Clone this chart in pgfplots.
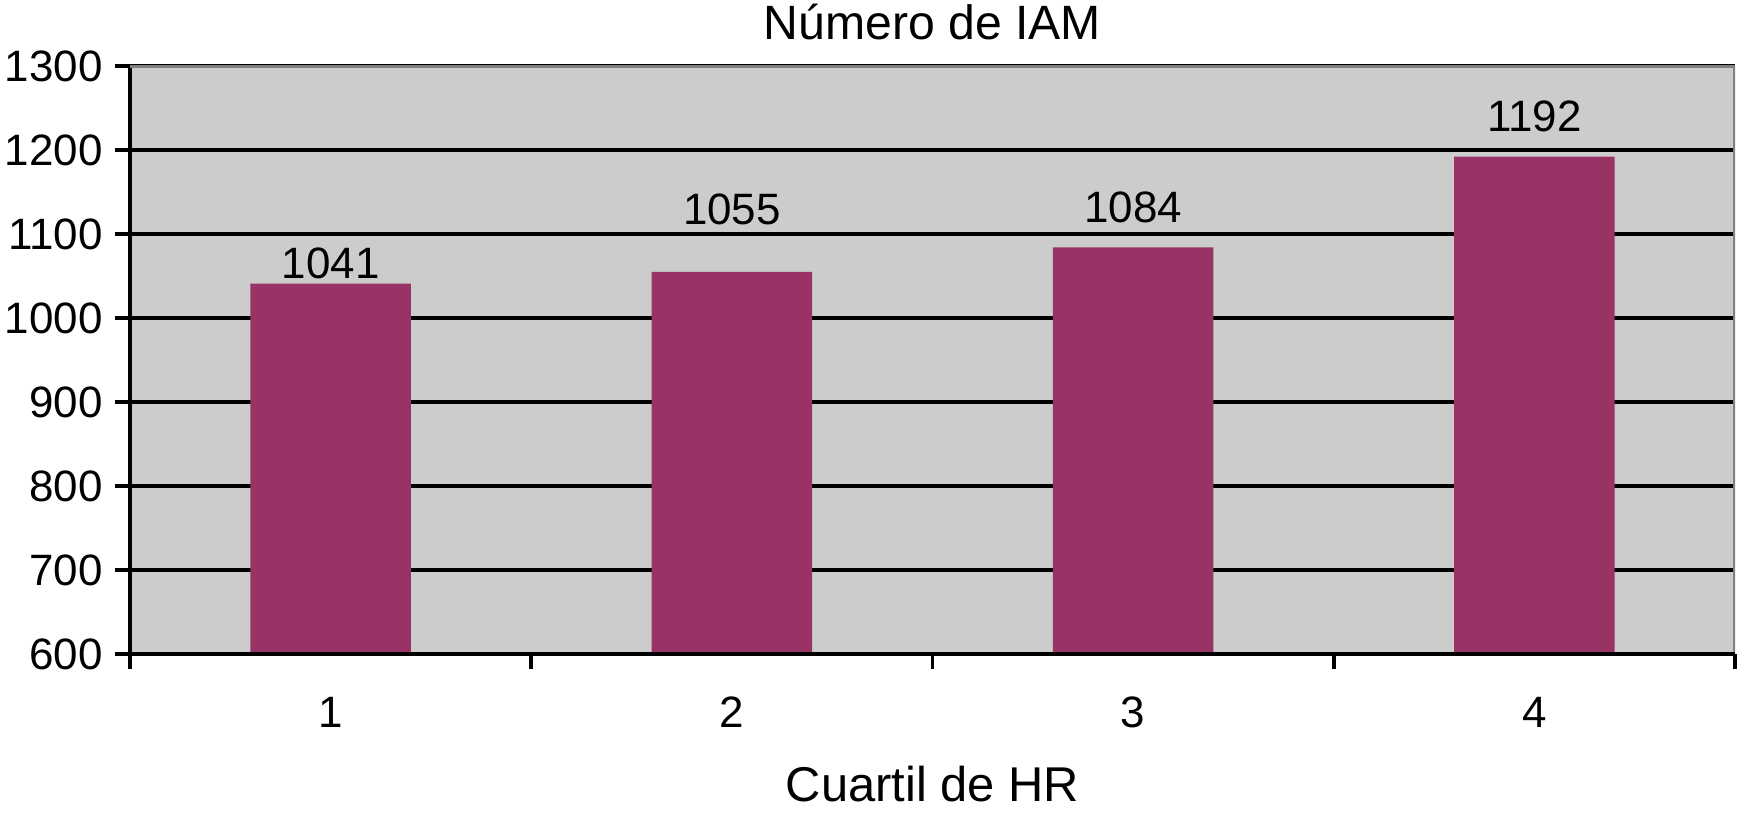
\documentclass[border=0pt]{standalone}
\usepackage{pgfplots}
\usepackage{pgfplotstable}
\pgfplotsset{compat=1.18}
\usepackage{fontspec}
\setmainfont{Liberation Sans}
\definecolor{barplum}{RGB}{153,51,102}
\definecolor{plotbg}{RGB}{204,204,204}
\definecolor{framegray}{RGB}{128,128,128}

% off = vertical position of the value label above the bar top (mm)
\pgfplotstableread{
x y off
1 1041 2.0
2 1055 6.2
3 1084 4.0
4 1192 4.0
}\iamdata

\begin{document}
\begin{tikzpicture}
\begin{axis}[
  name=ax,
  scale only axis,
  width=160.5mm, height=58.8mm,
  xmin=0.5, xmax=4.5,
  ymin=600, ymax=1300,
  ytick={600,700,...,1300},
  xtick={1,2,3,4},
  minor xtick={0.5,1.5,2.5,3.5,4.5},
  every major x tick/.append style={draw=none},
  axis lines*=left,
  axis line style={black, line width=1.1pt},
  axis background/.style={fill=plotbg},
  ymajorgrids,
  grid style={black, line width=1pt},
  tick align=outside,
  tick style={black, line width=1.1pt},
  major tick length=1.5mm,
  minor tick length=1.5mm,
  ticklabel style={font=\fontsize{12.5}{14}\selectfont},
  /pgf/number format/assume math mode=true,
  /pgf/number format/1000 sep={},
  yticklabel style={anchor=east},
  xticklabel style={anchor=center, yshift=-4.3mm},
  title={Número de IAM},
  title style={font=\fontsize{13.7}{15}\selectfont, at={(axis description cs:0.5,1)}, anchor=center, yshift=2.3mm},
  xlabel={Cuartil de HR},
  xlabel style={font=\fontsize{13.9}{15}\selectfont, at={(axis description cs:0.5,0)}, anchor=center, yshift=-13mm},
  ybar,
  bar width=0.4,
  nodes near coords,
  visualization depends on={\thisrow{off} \as \off},
  every node near coord/.append style={font=\fontsize{12.5}{14}\selectfont, text=black, anchor=center, yshift=\off mm},
]
\addplot[fill=barplum, draw=none] table[x=x, y=y] {\iamdata};
\draw[framegray, line width=1.4pt] (rel axis cs:0,1) -- (rel axis cs:1,1) -- (rel axis cs:1,0);
\draw[black, line width=1.1pt] (rel axis cs:0,0) -- (rel axis cs:1,0);
\end{axis}
\pgfresetboundingbox
\path[use as bounding box] ([xshift=-13mm, yshift=-16.5mm]ax.south west) rectangle ([xshift=0.8mm, yshift=6.6mm]ax.north east);
\end{tikzpicture}
\end{document}
